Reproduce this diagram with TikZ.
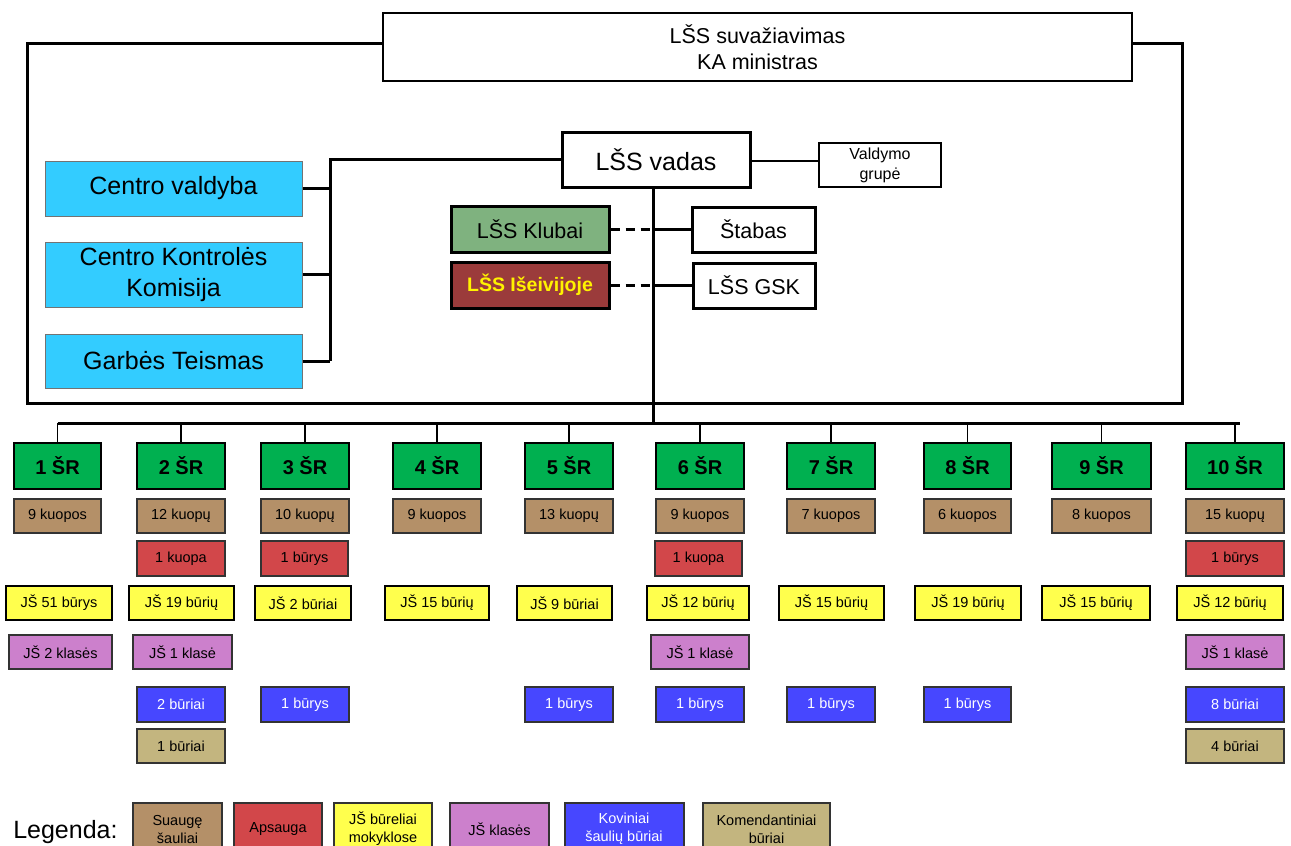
\documentclass[tikz,border=0pt]{standalone}
\usepackage{fontspec}
\setmainfont{Liberation Sans}
\usepackage{xcolor}
\usetikzlibrary{positioning}

\definecolor{cyanbox}{HTML}{33CCFF}
\definecolor{srgreen}{HTML}{00B050}
\definecolor{clubgreen}{HTML}{7FB27F}
\definecolor{exilered}{HTML}{9B3B3B}
\definecolor{adultbrown}{HTML}{B49068}
\definecolor{guardred}{HTML}{D2474A}
\definecolor{jsyellow}{HTML}{FFFF4D}
\definecolor{jspink}{HTML}{CC80CC}
\definecolor{combatblue}{HTML}{4747FF}
\definecolor{commkhaki}{HTML}{C3B57F}

\begin{document}
\begin{tikzpicture}[x=1pt,y=-1pt,semithick]
	\tikzstyle{org}=[draw=black,line width=2.5pt,fill=white,inner sep=0pt,align=center,font=\fontsize{21.5}{26}\selectfont]
	\tikzstyle{council}=[draw=black!55,line width=1pt,fill=cyanbox,inner sep=0pt,align=center,minimum width=257,font=\fontsize{25}{31}\selectfont]
	\tikzstyle{region}=[draw=black,line width=2pt,fill=srgreen,inner sep=0pt,minimum height=46,font=\bfseries\fontsize{20}{24}\selectfont]
	\tikzstyle{unit}=[draw=black!80,line width=2pt,inner sep=0pt,minimum height=34,align=center,font=\fontsize{14.5}{18}\selectfont]
	\tikzstyle{bus}=[line width=3pt]
	\tikzstyle{drop}=[line width=1.5pt]
	
	\useasboundingbox (0,0) rectangle (1291,846);
	
	% top of the structure
	\node[org,minimum width=749,minimum height=68] (congress) at (757.5,47) {LŠS suvažiavimas\\KA ministras};
	\node[org,line width=3pt,minimum width=188,minimum height=55,font=\fontsize{25}{30}\selectfont] (vadas) at (656,159.5) {LŠS vadas};
	\node[org,line width=1.2pt,minimum width=122,minimum height=44,font=\fontsize{16}{20}\selectfont] (valdymo) at (880,165) {Valdymo\\grupė};
	
	\node[council,minimum height=55] (cv) at (173.5,188.5) {Centro valdyba};
	\node[council,minimum height=65] (ckk) at (173.5,274.5) {Centro Kontrolės\\Komisija};
	\node[council,minimum height=54] (gt) at (173.5,361) {Garbės Teismas};
	
	\node[org,line width=3pt,fill=clubgreen,minimum width=158,minimum height=46] (klubai) at (530,229) {LŠS Klubai};
	\node[org,line width=3pt,fill=exilered,text=yellow,minimum width=158,minimum height=46,font=\bfseries\fontsize{19.5}{24}\selectfont] (iseiv) at (530,285) {LŠS Išeivijoje};
	\node[org,line width=3pt,minimum width=123,minimum height=45] (stabas) at (753.5,229.5) {Štabas};
	\node[org,line width=3pt,minimum width=122,minimum height=45] (gsk) at (754,285.5) {LŠS GSK};
	
	\coordinate (frameSW) at (27,403);
	\coordinate (frameSE) at (1182,403);
	\coordinate (cbus) at (330,361);
	\coordinate (trunk) at (653,423);
	
	\draw[bus] ([yshift=4pt]congress.west) -| (frameSW) -- (frameSE) |- ([yshift=4pt]congress.east);
	\draw[bus] (vadas.west) -| (cbus);
	\draw[bus] (cv.east) -- (cv.east -| cbus);
	\draw[bus] (ckk.east) -- (ckk.east -| cbus);
	\draw[bus] (gt.east) -- (cbus);
	\draw[line width=1.2pt] (vadas.east |- 0,161) -- (valdymo.west |- 0,161);
	\draw[bus] (trunk |- vadas.south) -- (trunk);
	\draw[bus] (stabas.west) -- (stabas.west -| trunk);
	\draw[bus] (gsk.west) -- (gsk.west -| trunk);
	\draw[bus,dash pattern=on 9pt off 6pt] (klubai.east) -- (klubai.east -| trunk);
	\draw[bus,dash pattern=on 9pt off 6pt] (iseiv.east) -- (iseiv.east -| trunk);
	
	% regions
	\foreach \n/\cx/\w/\kp in {1/57.5/87/9 kuopos, 2/181/88/12 kuopų, 3/305/88/10 kuopų, 4/437/88/9 kuopos, 5/569/88/13 kuopų, 6/700/88/9 kuopos, 7/831/88/7 kuopos, 8/967.5/87/6 kuopos, 9/1101.5/99/8 kuopos, 10/1235/98/15 kuopų}{
		\node[region,minimum width=\w] (sr\n) at (\cx,466) {\n\ ŠR};
		\node[unit,fill=adultbrown,minimum width=\w] (kp\n) at (\cx,516) {\kp};
		\draw[drop] (sr\n.north) -- (sr\n.north |- trunk);
	}
	\draw[bus] (sr1.north |- trunk) -- ([xshift=5pt]sr10.north |- trunk);
	
	\foreach \n/\cx/\w/\txt in {2/181/88/1 kuopa, 3/304.5/87/1 būrys, 6/698.5/87/1 kuopa, 10/1235/98/1 būrys}
		\node[unit,fill=guardred,minimum width=\w,minimum height=35] (red\n) at (\cx,558.5) {\txt};
	\foreach \n/\cx/\w/\txt in {1/59/106/JŠ 51 būrys, 2/181.5/105/JŠ 19 būrių, 3/303/96/JŠ 2 būriai, 4/437/104/JŠ 15 būrių, 5/564.5/95/JŠ 9 būriai, 6/698/102/JŠ 12 būrių, 7/831.5/105/JŠ 15 būrių, 8/968/106/JŠ 19 būrių, 9/1096/108/JŠ 15 būrių, 10/1230/106/JŠ 12 būrių}
		\node[unit,draw=black,fill=jsyellow,minimum width=\w] (jsb\n) at (\cx,603) {\txt};
	\foreach \n/\cx/\w/\txt in {1/60.5/103/JŠ 2 klasės, 2/182.5/99/JŠ 1 klasė, 6/700/98/JŠ 1 klasė, 10/1235/98/JŠ 1 klasė}
		\node[unit,fill=jspink,minimum width=\w] (jsk\n) at (\cx,652) {\txt};
	\foreach \n/\cx/\w/\txt in {2/181/88/2 būriai, 3/305/88/1 būrys, 5/569/88/1 būrys, 6/700/88/1 būrys, 7/831/88/1 būrys, 8/967.5/87/1 būrys, 10/1235/98/8 būriai}
		\node[unit,fill=combatblue,text=white,minimum width=\w,minimum height=35] (kov\n) at (\cx,704.5) {\txt};
	\foreach \n/\cx/\w/\txt in {2/181/88/1 būriai, 10/1235/98/4 būriai}
		\node[unit,fill=commkhaki,minimum width=\w] (kom\n) at (\cx,746) {\txt};
	
	% legend
	\node[anchor=west,inner sep=0pt,font=\fontsize{25}{30}\selectfont] (legend) at (13,832) {Legenda:};
	\foreach \k/\cx/\w/\col/\tc/\txt in {1/177.5/89/adultbrown/black/Suaugę\\šauliai, 2/278/88/guardred/black/Apsauga, 3/383/98/jsyellow/black/JŠ būreliai\\mokyklose, 4/499.5/99/jspink/black/JŠ klasės, 5/624/119/combatblue/white/Koviniai\\šaulių būriai, 6/766.5/127/commkhaki/black/Komendantiniai\\būriai}
		\node[unit,fill=\col,text=\tc,minimum width=\w,minimum height=52] (key\k) at (\cx,829) {\txt};
\end{tikzpicture}
\end{document}
